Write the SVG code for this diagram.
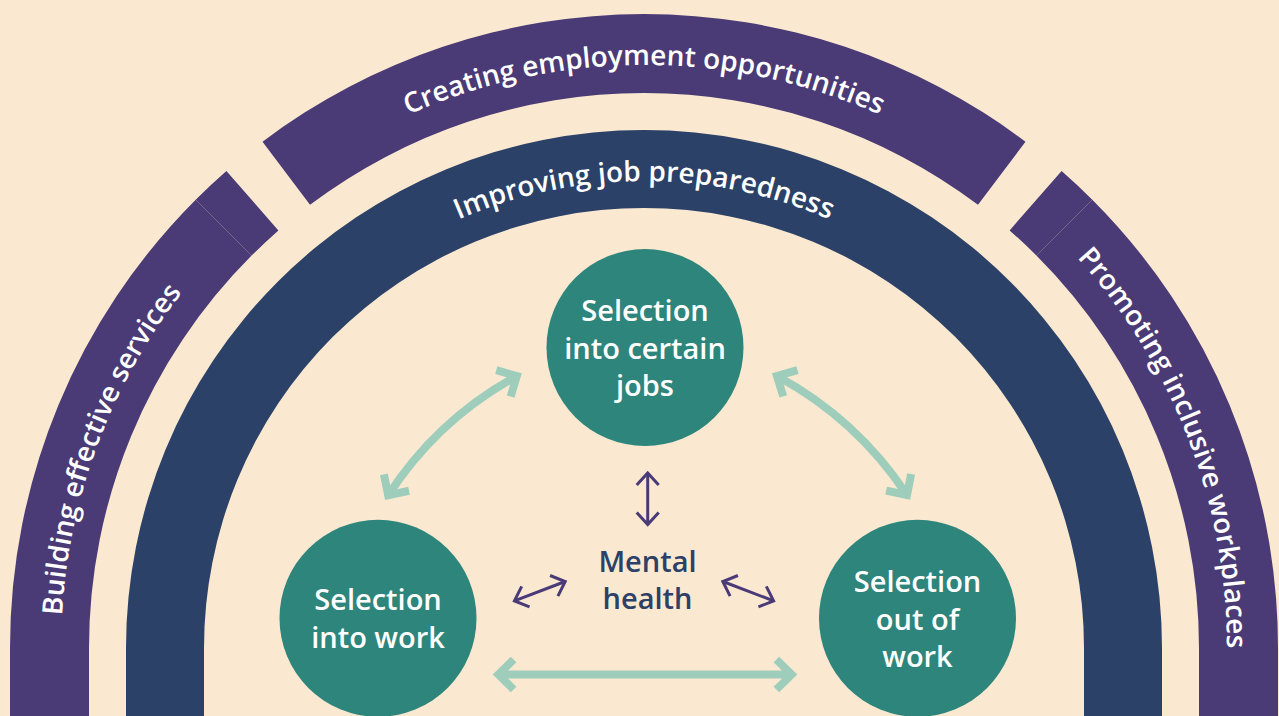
<svg xmlns="http://www.w3.org/2000/svg" width="1279" height="716" viewBox="0 0 1279 716">
  <style>
    .bg { fill: #fae9d0; }
    .band-purple { fill: #4a3b76; }
    .band-navy { fill: #2c4168; }
    .node { fill: #2e857b; }
    .label { font-family: "Open Sans", "Noto Sans", "Liberation Sans", sans-serif; font-weight: 600; font-size: 29px; }
    .arc-label { font-family: "Open Sans", "Noto Sans", "Liberation Sans", sans-serif; font-weight: 600; font-size: 28px; fill: #ffffff; }
    .node-text { fill: #ffffff; text-anchor: middle; }
    .center-text { fill: #2c4068; text-anchor: middle; }
    .link-green { fill: none; stroke: #9fcdbc; stroke-width: 8; marker-start: url(#head-green); marker-end: url(#head-green); }
    .link-purple { fill: none; stroke: #4b3a78; stroke-width: 3; marker-start: url(#head-purple); marker-end: url(#head-purple); }
  </style>
  <defs>
    <!-- open chevron heads, drawn in user units so both ends match -->
    <marker id="head-green" markerUnits="userSpaceOnUse" viewBox="-26 -22 32 44" markerWidth="32" markerHeight="44" refX="0" refY="0" orient="auto-start-reverse">
      <path d="M-15.2 -15 L0 0 L-15.2 15" fill="none" stroke="#9fcdbc" stroke-width="8" stroke-miterlimit="4"/>
    </marker>
    <marker id="head-purple" markerUnits="userSpaceOnUse" viewBox="-18 -16 22 32" markerWidth="22" markerHeight="32" refX="0" refY="0" orient="auto-start-reverse">
      <path d="M-12 -11 L0 0 L-12 11" fill="none" stroke="#4b3a78" stroke-width="3" stroke-miterlimit="4"/>
    </marker>
    <!-- baselines for the curved labels, all on circles centred at (644,648) -->
    <path id="arc-top" d="M269.2 201.4 A583 583 0 0 1 1018.8 201.4"/>
    <path id="arc-left" d="M94.8 843.5 A583 583 0 0 1 356.1 141.1"/>
    <path id="arc-right" d="M926.6 138.1 A583 583 0 0 1 1195.2 837.8"/>
    <path id="arc-inner" d="M343.8 290.3 A467 467 0 0 1 944.2 290.3"/>
  </defs>

  <rect class="bg" x="0" y="0" width="1279" height="716"/>

  <!-- outer ring: three purple segments -->
  <g id="ring-creating-employment">
    <path class="band-purple" d="M262.5 141.7 A634 634 0 0 1 1025.5 141.7 L978 204.8 A555 555 0 0 0 310 204.8 Z"/>
    <text class="arc-label"><textPath href="#arc-top" startOffset="50%" text-anchor="middle">Creating employment opportunities</textPath></text>
  </g>

  <g id="ring-building-services">
    <path class="band-purple" d="M226.4 171 L278.4 230.4 A555 555 0 0 0 251.6 255.6 L195.7 199.7 A634 634 0 0 1 226.4 171 Z"/>
    <path class="band-purple" d="M195.7 199.7 L251.6 255.6 A555 555 0 0 0 89 648 L89 720 L10 720 L10 648 A634 634 0 0 1 195.7 199.7 Z"/>
    <text class="arc-label"><textPath href="#arc-left" startOffset="50%" text-anchor="middle">Building effective services</textPath></text>
  </g>

  <g id="ring-inclusive-workplaces">
    <path class="band-purple" d="M1061.6 171 A634 634 0 0 1 1092.3 199.7 L1036.4 255.6 A555 555 0 0 0 1009.6 230.4 Z"/>
    <path class="band-purple" d="M1092.3 199.7 A634 634 0 0 1 1278 648 L1278 720 L1199 720 L1199 648 A555 555 0 0 0 1036.4 255.6 Z"/>
    <text class="arc-label"><textPath href="#arc-right" startOffset="50%" text-anchor="middle">Promoting inclusive workplaces</textPath></text>
  </g>

  <!-- inner ring -->
  <g id="ring-job-preparedness">
    <path class="band-navy" d="M126 720 L126 648 A518 518 0 0 1 1162 648 L1162 720 L1084 720 L1084 648 A440 440 0 0 0 204 648 L204 720 Z"/>
    <text class="arc-label"><textPath href="#arc-inner" startOffset="50%" text-anchor="middle">Improving job preparedness</textPath></text>
  </g>

  <!-- connectors -->
  <g id="connectors">
    <path class="link-green" d="M388.2 495.3 Q437.6 419.3 516.8 376.1"/>
    <path class="link-green" d="M777 376 Q856.9 419.3 907 495"/>
    <path class="link-green" d="M498.4 674.5 L791.6 674.5"/>
    <path class="link-purple" d="M647.7 473 L647.7 524.5"/>
    <path class="link-purple" d="M514.4 600.9 L565.2 581.5"/>
    <path class="link-purple" d="M722.8 581.5 L773.6 600.9"/>
  </g>

  <!-- nodes -->
  <g id="node-certain-jobs">
    <circle class="node" cx="645" cy="347.5" r="98.5"/>
    <text class="label node-text" x="645" y="321">Selection</text>
    <text class="label node-text" x="645" y="358.5">into certain</text>
    <text class="label node-text" x="645" y="396">jobs</text>
  </g>

  <g id="node-into-work">
    <circle class="node" cx="378" cy="618.3" r="98.5"/>
    <text class="label node-text" x="378" y="610">Selection</text>
    <text class="label node-text" x="378" y="647.5">into work</text>
  </g>

  <g id="node-out-of-work">
    <circle class="node" cx="917.5" cy="618.3" r="98.5"/>
    <text class="label node-text" x="917.5" y="592">Selection</text>
    <text class="label node-text" x="917.5" y="629.5">out of</text>
    <text class="label node-text" x="917.5" y="667">work</text>
  </g>

  <g id="node-mental-health">
    <text class="label center-text" x="647.5" y="572">Mental</text>
    <text class="label center-text" x="647.5" y="608.5">health</text>
  </g>
</svg>
